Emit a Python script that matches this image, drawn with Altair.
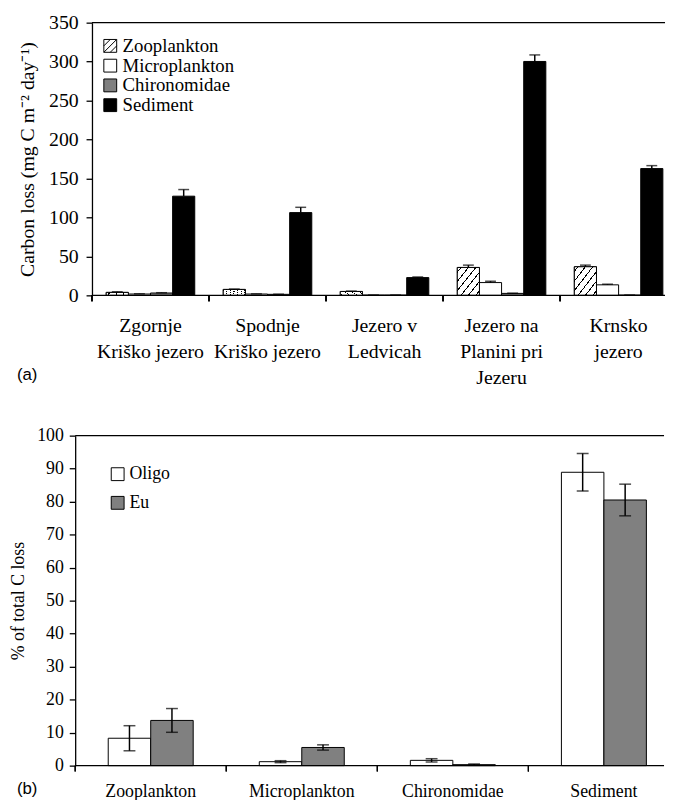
import altair as alt
import pandas as pd

SERIF = "Liberation Serif"
SANS = "Liberation Sans"

# ---------------- panel (a) data ----------------
lakes = ["Zgornje|Kriško jezero", "Spodnje|Kriško jezero", "Jezero v|Ledvicah",
         "Jezero na|Planini pri|Jezeru", "Krnsko|jezero"]
taxa = ["Zooplankton", "Microplankton", "Chironomidae", "Sediment"]
zoo = [3.8, 7.6, 5.0, 35.8, 36.7]
zoo_err = [0.8, 0.5, 0.5, 3.0, 2.1]
micro = [1.7, 1.7, 0.3, 16.4, 13.5]
micro_err = [0.3, 0.2, 0.1, 1.7, 0.8]
chiro = [3.0, 1.3, 0.3, 2.5, 0.3]
chiro_err = [0.4, 0.2, 0.1, 0.3, 0.1]
sed = [127.3, 106.2, 22.8, 300.2, 162.7]
sed_err = [8.5, 6.8, 0.8, 8.4, 3.8]
y1_ticks = [0, 50, 100, 150, 200, 250, 300, 350]

# ---------------- panel (b) data ----------------
groups = ["Zooplankton", "Microplankton", "Chironomidae", "Sediment"]
status = ["Oligo", "Eu"]
oligo = [8.3, 1.2, 1.6, 88.9]
oligo_err = [3.8, 0.3, 0.5, 5.7]
eu = [13.7, 5.5, 0.3, 80.5]
eu_err = [3.6, 0.8, 0.2, 4.8]
y2_ticks = [0, 10, 20, 30, 40, 50, 60, 70, 80, 90, 100]

rows = []
for name, vals, errs in [("Zooplankton", zoo, zoo_err), ("Microplankton", micro, micro_err),
                         ("Chironomidae", chiro, chiro_err), ("Sediment", sed, sed_err)]:
    for lake, v, e in zip(lakes, vals, errs):
        rows.append({"lake": lake, "taxon": name, "value": v, "hi": v + e})
top_df = pd.DataFrame(rows)

rows = []
for name, vals, errs in [("Oligo", oligo, oligo_err), ("Eu", eu, eu_err)]:
    for g, v, e in zip(groups, vals, errs):
        rows.append({"group": g, "status": name, "value": v, "lo": v - e, "hi": v + e})
bot_df = pd.DataFrame(rows)

# hatch fill (diagonal stripes) as a linear gradient
N = 6
stops = []
for k in range(N):
    b = k / N
    stops += [
        {"offset": b, "color": "white"},
        {"offset": b + 0.42 / N, "color": "white"},
        {"offset": b + 0.42 / N, "color": "black"},
        {"offset": b + 0.58 / N, "color": "black"},
        {"offset": b + 0.58 / N, "color": "white"},
    ]
stops.append({"offset": 1, "color": "white"})
HATCH = {"gradient": "linear", "x1": 0, "y1": 0, "x2": 1, "y2": 1, "stops": stops}
HATCH_PATH = "M-1,-1H1V1H-1Z M-1,0L0,-1 M-1,1L1,-1 M0,1L1,0"

SHIFT = 17           # panel (a) y axis sits this far right of panel (b)'s
W1, H1 = 597, 276
W2, H2 = 596, 334
TICK = 6
STEP1, GROUP1 = 118.45, 89.6   # category step and bar-group width, panel (a)
STEP2, GROUP2 = 152.9, 86.0    # panel (b)
PIN = 0.2


def band_setup(n, step, span, group):
    """Category steps of `step` px from the range start (last one cut by the plot
    edge, as in the cropped original); bars centred in each step.
    Band scale is centred (align 0.5), so its band centres sit cut/2 left of the
    step centres; labels, bar offsets and boundary ticks are corrected for that."""
    cut = n * step - span
    pout = (span / step - n + PIN) / 2
    bw = step * (1 - PIN)
    centre = bw / 2 + cut / 2                 # step centre, measured from band start
    off_range = [centre - group / 2, centre + group / 2]
    tick_off = bw / 2 - step / 2 + cut / 2    # step start, measured from band start
    return pout, cut / 2, off_range, tick_off


# ---------------- panel (a) ----------------
po1, lo1, offr1, toff1 = band_setup(5, STEP1, W1 - SHIFT, GROUP1)
sc_x1 = alt.Scale(range=[SHIFT, W1], paddingInner=PIN, paddingOuter=po1, align=0.5)
axis_x1 = alt.Axis(title=None, labelAngle=0, labelExpr="split(datum.label, '|')",
                   labelLineHeight=26, labelFont=SERIF, labelFontSize=20, labelColor="black",
                   domain=False, ticks=True, tickSize=0, labelPadding=21, labelOverlap=False,
                   labelOffset=lo1)


def x1(**kw):
    return alt.X("lake:N", sort=lakes, scale=sc_x1, axis=axis_x1, **kw)


xo1 = alt.XOffset("taxon:N", sort=taxa,
                  scale=alt.Scale(domain=taxa, range=offr1, paddingInner=0, paddingOuter=0))
axis_y1 = alt.Axis(title="Carbon loss (mg C m\u207b\u00b2 day\u207b\u00b9)", values=y1_ticks,
                   grid=False, offset=-SHIFT, domainColor="black", tickColor="black", tickSize=TICK,
                   labelPadding=8, labelFont=SERIF, labelFontSize=20, labelColor="black",
                   titleFont=SERIF, titleFontSize=20, titleFontWeight="normal",
                   titleColor="black", titleX=-55, titleY=H1 / 2, titleAngle=270,
                   titleBaseline="bottom", titleAlign="center",
                   domainWidth=1.3, tickWidth=1.3)
sc_y1 = alt.Scale(domain=[0, 350])


def y1(field):
    return alt.Y(field, scale=sc_y1, axis=axis_y1)


leg1 = alt.Legend(title=None, orient="none", legendX=26, legendY=14, symbolSize=169,
                  symbolStrokeColor="black", symbolStrokeWidth=1, labelFont=SERIF,
                  labelFontSize=19, labelColor="black", rowPadding=-4, labelOffset=3,
                  padding=0, symbolOpacity=1)
fill1 = alt.Fill("taxon:N", scale=alt.Scale(domain=taxa, range=["white", "white", "#808080", "black"]),
                 legend=leg1)
stroke1 = alt.Stroke("taxon:N", scale=alt.Scale(domain=taxa, range=["black", "black", "black", "black"]),
                     legend=leg1)
shape1 = alt.Shape("taxon:N", scale=alt.Scale(domain=taxa, range=[HATCH_PATH, "square", "square", "square"]),
                   legend=leg1)

base1 = alt.Chart(top_df)
bars1 = base1.mark_bar(strokeWidth=1).encode(
    x=x1(), xOffset=xo1, y=y1("value:Q"), fill=fill1, stroke=stroke1)
hatch1 = base1.transform_filter("datum.taxon == 'Zooplankton'").mark_bar(
    fill=HATCH, stroke="black", strokeWidth=1).encode(x=x1(), xOffset=xo1, y=y1("value:Q"))
legpts = base1.transform_filter("false").mark_point(
    filled=True, strokeWidth=1, opacity=1).encode(
    x=x1(), xOffset=xo1, y=y1("value:Q"), fill=fill1, stroke=stroke1, shape=shape1)
err1 = base1.mark_rule(color="black", strokeWidth=1.5).encode(
    x=x1(), xOffset=xo1, y=y1("value:Q"), y2="hi:Q")
cap1 = base1.mark_tick(color="black", thickness=1.5, size=11).encode(x=x1(), xOffset=xo1, y=y1("hi:Q"))
# category boundary ticks (start of each step) and the x baseline / top frame
ticks1 = base1.mark_rule(color="black", strokeWidth=1.3).encode(
    x=x1(bandPosition=0), xOffset=alt.value(toff1), y=alt.value(H1), y2=alt.value(H1 + TICK))
one = pd.DataFrame({"k": [0]})
base_line1 = alt.Chart(one).mark_rule(color="black", strokeWidth=1.3).encode(
    x=alt.value(SHIFT), x2=alt.value(W1), y=alt.value(H1))
frame1 = alt.Chart(one).mark_rule(color="black", strokeWidth=1.3).encode(
    x=alt.value(SHIFT), x2=alt.value(W1), y=alt.value(0))
lab1 = alt.Chart(pd.DataFrame({"t": ["(a)"]})).mark_text(
    align="left", baseline="middle", font=SANS, fontSize=17, color="black").encode(
    text="t:N", x=alt.value(-59), y=alt.value(357))

top = alt.layer(bars1, hatch1, legpts, err1, cap1, ticks1, base_line1, frame1, lab1).properties(
    width=W1, height=H1)

# ---------------- panel (b) ----------------
po2, lo2, offr2, toff2 = band_setup(4, STEP2, W2, GROUP2)
sc_x2 = alt.Scale(range=[0, W2], paddingInner=PIN, paddingOuter=po2, align=0.5)
axis_x2 = alt.Axis(title=None, labelAngle=0, labelFont=SERIF, labelFontSize=18,
                   labelColor="black", domain=False, ticks=True, tickSize=0, labelPadding=17,
                   labelOffset=lo2)


def x2(**kw):
    return alt.X("group:N", sort=groups, scale=sc_x2, axis=axis_x2, **kw)


xo2 = alt.XOffset("status:N", sort=status,
                  scale=alt.Scale(domain=status, range=offr2, paddingInner=0, paddingOuter=0))
axis_y2 = alt.Axis(title="% of total C loss", values=y2_ticks, grid=False,
                   domainColor="black", tickColor="black", tickSize=TICK, labelPadding=6,
                   labelFont=SERIF, labelFontSize=18, labelColor="black",
                   titleFont=SERIF, titleFontSize=18, titleFontWeight="normal",
                   titleColor="black", titleX=-48, titleY=H2 / 2, titleAngle=270,
                   titleBaseline="bottom", titleAlign="center",
                   domainWidth=1.3, tickWidth=1.3)
sc_y2 = alt.Scale(domain=[0, 100])


def y2(field):
    return alt.Y(field, scale=sc_y2, axis=axis_y2)


leg2 = alt.Legend(title=None, orient="none", legendX=34, legendY=30, symbolSize=169,
                  symbolType="square", symbolStrokeColor="black", symbolStrokeWidth=1,
                  labelFont=SERIF, labelFontSize=18, labelColor="black", rowPadding=11,
                  labelOffset=3, padding=0, symbolOpacity=1)
fill2 = alt.Fill("status:N", scale=alt.Scale(domain=status, range=["white", "#808080"]), legend=leg2)

base2 = alt.Chart(bot_df)
bars2 = base2.mark_bar(stroke="black", strokeWidth=1).encode(
    x=x2(), xOffset=xo2, y=y2("value:Q"), fill=fill2)
err2 = base2.mark_rule(color="black", strokeWidth=1.5).encode(
    x=x2(), xOffset=xo2, y=y2("lo:Q"), y2="hi:Q")
caphi = base2.mark_tick(color="black", thickness=1.5, size=12).encode(x=x2(), xOffset=xo2, y=y2("hi:Q"))
caplo = base2.mark_tick(color="black", thickness=1.5, size=12).encode(x=x2(), xOffset=xo2, y=y2("lo:Q"))
ticks2 = base2.mark_rule(color="black", strokeWidth=1.3).encode(
    x=x2(bandPosition=0), xOffset=alt.value(toff2), y=alt.value(H2), y2=alt.value(H2 + TICK))
base_line2 = alt.Chart(one).mark_rule(color="black", strokeWidth=1.3).encode(
    x=alt.value(0), x2=alt.value(W2), y=alt.value(H2))
frame2 = alt.Chart(one).mark_rule(color="black", strokeWidth=1.3).encode(
    x=alt.value(0), x2=alt.value(W2), y=alt.value(0))
lab2 = alt.Chart(pd.DataFrame({"t": ["(b)"]})).mark_text(
    align="left", baseline="middle", font=SANS, fontSize=17, color="black").encode(
    text="t:N", x=alt.value(-59), y=alt.value(358))

bottom = alt.layer(bars2, err2, caphi, caplo, ticks2, base_line2, frame2, lab2).properties(
    width=W2, height=H2)

chart = alt.vconcat(top, bottom, spacing=40).resolve_scale(
    x="independent", y="independent", xOffset="independent",
    fill="independent", shape="independent", stroke="independent"
).resolve_legend(fill="independent", shape="independent", stroke="independent").properties(
    padding={"left": 2, "top": 0, "right": 0, "bottom": 0}
).configure_view(stroke=None).configure_axis(labelFont=SERIF, titleFont=SERIF)

chart.save("out.html", embed_options={"renderer": "svg", "actions": False})
